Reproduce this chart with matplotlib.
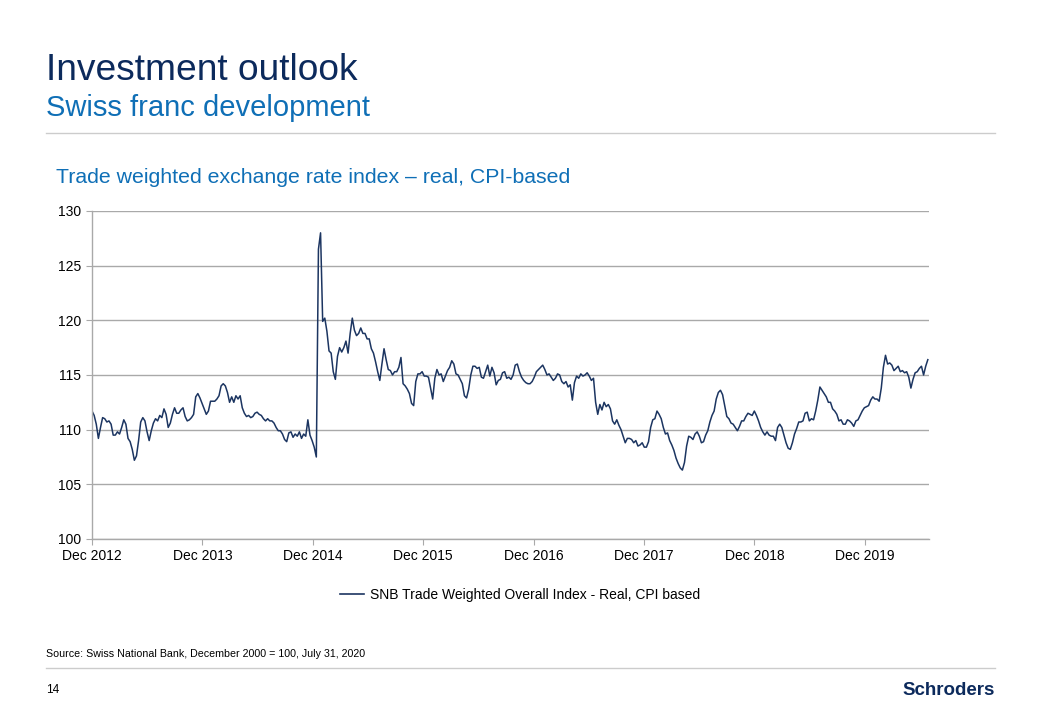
"""Swiss franc development - trade weighted exchange rate index (real, CPI based).

Weekly readings of the SNB index from Dec 2012 to July 2020,
drawn as a single line chart on a slide-style page.

Usage:
    python plot.py

Output:
    out.png
"""
from __future__ import annotations

import matplotlib

matplotlib.use("Agg")
import matplotlib.pyplot as plt
import pandas as pd
from matplotlib.lines import Line2D

OUT = "out.png"

NAVY = "#0c2a5c"
BLUE = "#0f6fb6"
LINE = "#1c3561"
GRID = "#a9a9a9"
RULE = "#cccccc"

# ---------------------------------------------------------------------------
# Data (one value per week starting at START)
# ---------------------------------------------------------------------------

START = "2012-12-31"
END = "2020-07-31"

index_values = [
    111.7, 111.3, 110.5, 109.2, 110.2, 111.1, 111.0, 110.7, 110.8, 110.5,
    109.5, 109.5, 109.8, 109.6, 110.2, 110.9, 110.5, 109.2, 108.9, 108.2,
    107.2, 107.6, 109.0, 110.7, 111.1, 110.8, 109.8, 109.0, 109.9, 110.6,
    111.0, 110.8, 111.3, 111.1, 111.9, 111.4, 110.2, 110.6, 111.4, 112.0,
    111.5, 111.5, 111.8, 112.0, 111.2, 110.8, 110.9, 111.1, 111.4, 113.0,
    113.3, 112.9, 112.4, 111.9, 111.4, 111.7, 112.6, 112.6, 112.6, 112.8,
    113.1, 114.0, 114.2,
    114.0, 113.4, 112.5, 113.0, 112.5, 113.1, 112.8,
    113.1, 112.0, 111.5, 111.2, 111.3, 111.1, 111.2, 111.5, 111.6, 111.4,
    111.3, 111.0, 110.8, 111.0, 110.8, 110.8, 110.6, 110.2, 109.9, 109.9,
    109.6, 109.1, 108.9, 109.7, 109.8, 109.3, 109.6, 109.4, 109.8, 109.2,
    109.6, 109.4, 110.9, 109.5, 109.0, 108.4, 107.5, 126.5, 128.0, 119.9,
    120.2, 119.0, 117.2, 117.0, 115.3, 114.6, 116.7, 117.5, 117.1, 117.5,
    118.1, 117.0, 118.8, 120.2, 119.1, 118.6, 118.8, 119.3, 118.8, 118.8,
    118.3, 118.3, 117.4, 117.0, 116.2, 115.3, 114.5, 116.0, 117.4, 116.4,
    115.5, 115.4, 115.0, 115.3, 115.3, 115.7, 116.6, 114.2, 114.0, 113.7,
    113.3, 112.4, 112.2, 114.4, 115.1, 115.1, 115.3, 114.9, 114.9, 114.8,
    113.8, 112.8, 114.7, 115.5, 115.0, 115.1, 114.4, 114.9, 115.4, 115.7,
    116.3, 116.0, 115.1, 115.0, 114.6, 114.2, 113.1, 112.9, 113.7, 115.0,
    115.8, 115.8, 115.6, 115.7, 114.8, 114.7, 115.3, 115.9, 114.9, 115.7,
    115.2, 114.1, 114.5, 114.6, 115.2, 115.3,
    114.7, 114.8, 114.6, 115.0,
    115.9, 116.0, 115.3, 114.8, 114.5, 114.3, 114.2, 114.2, 114.4, 114.8,
    115.3, 115.5, 115.7, 115.9, 115.5, 115.0, 115.1, 114.8, 114.5, 114.7,
    115.1, 115.0, 114.4, 114.2, 114.4, 113.9, 114.1, 112.7, 114.3, 114.9,
    114.7, 115.1, 114.9, 115.0, 115.2, 114.9, 114.5, 114.7, 112.5, 111.4,
    112.3, 111.8, 112.5, 112.1, 112.3, 111.9, 110.8, 110.5, 110.9, 110.4,
    110.0, 109.4, 108.8, 109.2, 109.2, 109.1, 108.8, 109.0, 108.5, 108.6,
    108.8, 108.4,
    108.4, 108.9, 110.2, 110.9, 111.0, 111.7, 111.4, 111.0,
    110.2, 109.6, 109.7, 109.0, 108.6, 108.1, 107.4, 106.9, 106.5, 106.3,
    107.0, 108.5, 109.4, 109.3, 109.1, 109.6, 109.8, 109.4, 108.8, 108.9,
    109.5, 109.9, 110.7, 111.3, 111.7, 112.8, 113.4, 113.6, 113.2, 112.2,
    111.2, 111.0, 110.6, 110.5, 110.2, 109.9, 110.3, 110.8, 110.8, 111.2,
    111.5, 111.4, 111.3, 111.7, 111.3, 110.8, 110.2, 109.8, 109.5, 109.8,
    109.5, 109.4, 109.4, 109.0, 110.2, 110.5, 110.2,
    109.5, 108.8, 108.3,
    108.2, 108.8, 109.6, 110.1, 110.7, 110.7, 110.8, 111.5, 111.6, 110.8,
    111.0, 110.9, 111.7, 112.7, 113.9, 113.6, 113.3, 113.0, 112.5, 112.5,
    111.9, 111.7, 111.4, 110.8, 110.9, 110.5, 110.5, 110.9, 110.8, 110.6,
    110.3, 110.8, 110.9, 111.3, 111.7, 112.0, 112.1, 112.2, 112.7, 113.0,
    112.8, 112.8, 112.6, 113.8, 115.7, 116.8, 116.0, 116.1, 115.9, 115.4,
    115.6, 115.8, 115.3, 115.4, 115.2, 115.3, 114.8, 113.8, 114.6, 115.2,
    115.3, 115.6, 115.8, 115.0, 115.8, 116.4,
]

tick_dates = ["2012-12-31", "2013-12-31", "2014-12-31", "2015-12-31",
              "2016-12-31", "2017-12-31", "2018-12-31", "2019-12-31"]
tick_labels = ["Dec 2012", "Dec 2013", "Dec 2014", "Dec 2015",
               "Dec 2016", "Dec 2017", "Dec 2018", "Dec 2019"]
y_ticks = [100, 105, 110, 115, 120, 125, 130]

series_label = "SNB Trade Weighted Overall Index - Real, CPI based"
source_note = "Source: Swiss National Bank, December 2000 = 100, July 31, 2020"


# ---------------------------------------------------------------------------
# Plot
# ---------------------------------------------------------------------------

def main() -> None:
    plt.rcParams["font.family"] = ["Liberation Sans", "DejaVu Sans"]

    dates = pd.date_range(START, periods=len(index_values), freq="7D")
    series = pd.Series(index_values, index=dates)

    fig = plt.figure(figsize=(10.4, 7.2), dpi=100)
    fig.patch.set_facecolor("white")

    # page header
    fig.text(0.044, 0.889, "Investment outlook", fontsize=26.7, color=NAVY,
             va="baseline")
    fig.text(0.044, 0.839, "Swiss franc development", fontsize=21, color=BLUE,
             va="baseline")
    fig.add_artist(Line2D([0.044, 0.957], [0.815, 0.815], color=RULE, lw=1))
    fig.text(0.054, 0.746, "Trade weighted exchange rate index \u2013 real, CPI-based",
             fontsize=15.3, color=BLUE, va="baseline")

    ax = fig.add_axes([0.0885, 0.2514, 0.8048, 0.4556])
    ax.plot(series.index, series.values, color=LINE, lw=1.1)

    ax.set_xlim(pd.Timestamp(START), pd.Timestamp(END))
    ax.set_ylim(100, 130)
    ax.set_yticks(y_ticks)
    ax.set_xticks(pd.to_datetime(tick_dates))
    ax.set_xticklabels(tick_labels)

    ax.grid(axis="y", color=GRID, lw=1)
    ax.set_axisbelow(True)
    for side in ("top", "right"):
        ax.spines[side].set_visible(False)
    for side in ("left", "bottom"):
        ax.spines[side].set_color(GRID)
        ax.spines[side].set_linewidth(1)
    ax.tick_params(axis="both", direction="out", length=4, color=GRID,
                   labelsize=10, labelcolor="black")
    ax.tick_params(axis="x", pad=3)
    ax.tick_params(axis="y", pad=4)

    handle = Line2D([], [], color=LINE, lw=1.2)
    fig.legend([handle], [series_label], loc="center",
               bbox_to_anchor=(0.5, 0.174), frameon=False, fontsize=10,
               handlelength=1.7, handletextpad=0.4)

    # footer
    fig.text(0.044, 0.088, source_note, fontsize=7.7, color="black",
             va="baseline")
    fig.add_artist(Line2D([0.044, 0.957], [0.072, 0.072], color=RULE, lw=1))
    fig.text(0.044, 0.037, "14", fontsize=8.5, color="black", va="baseline")
    fig.text(0.957, 0.035, "Schroders", fontsize=13.5, fontweight="bold",
             color=NAVY, ha="right", va="baseline")

    fig.savefig(OUT, dpi=100, facecolor="white")
    plt.close(fig)


if __name__ == "__main__":
    main()
